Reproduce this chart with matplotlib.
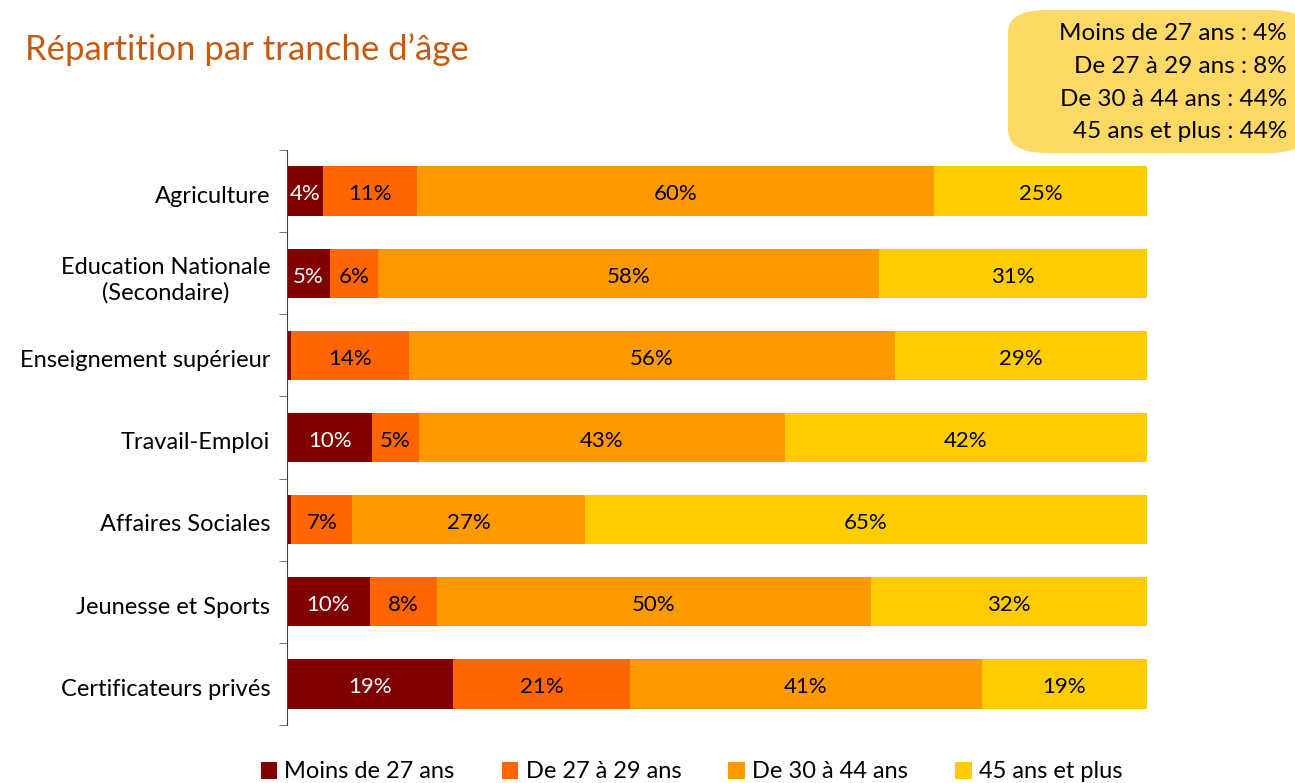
import numpy as np
import matplotlib.pyplot as plt
from matplotlib.patches import FancyBboxPatch, Patch

plt.rcParams['font.family'] = ['Lato', 'DejaVu Sans']

# Data (shares in %)
categories = ["Agriculture", "Education Nationale\n(Secondaire)", "Enseignement supérieur",
              "Travail-Emploi", "Affaires Sociales", "Jeunesse et Sports", "Certificateurs privés"]
series_names = ["Moins de 27 ans", "De 27 à 29 ans", "De 30 à 44 ans", "45 ans et plus"]
moins_27 = [4.2, 5.0, 0.5, 9.9, 0.5, 9.65, 19.3]
de_27_29 = [10.9, 5.6, 13.7, 5.4, 7.1, 7.8, 20.6]
de_30_44 = [60.1, 58.2, 56.5, 42.6, 27.0, 50.4, 40.9]
plus_45 = [24.8, 31.2, 29.3, 42.1, 65.4, 32.1, 19.2]
summary_lines = ["Moins de 27 ans : 4%", "De 27 à 29 ans : 8%",
                 "De 30 à 44 ans : 44%", "45 ans et plus : 44%"]

colors = ["#800000", "#FF6600", "#FF9900", "#FFCC00"]
text_colors = ["white", "black", "black", "black"]

fig = plt.figure(figsize=(12.95, 7.83), dpi=100)
ax = fig.add_axes([287 / 1295, 1 - 725 / 783, 860 / 1295, 575 / 783])

y = np.arange(len(categories))
left = np.zeros(len(categories))
for vals, col, tcol in zip([moins_27, de_27_29, de_30_44, plus_45], colors, text_colors):
    vals = np.array(vals)
    ax.barh(y, vals, left=left, height=0.6, color=col, edgecolor='none')
    for yi, l, v in zip(y, left, vals):
        if v >= 3:
            ax.text(l + v / 2, yi + 0.04, f"{round(v)}%", ha='center', va='center',
                    fontsize=16, color=tcol)
    left += vals

ax.set_xlim(0, 100)
ax.set_ylim(len(categories) - 0.5, -0.5)
ax.set_yticks(y + 0.04)
ax.set_yticklabels(categories, fontsize=17)
ax.set_yticks(np.arange(-0.5, len(categories) + 0.5, 1), minor=True)
ax.tick_params(axis='y', which='major', length=0, pad=12)
ax.tick_params(axis='y', which='minor', length=6, color='#595959', direction='out')
ax.set_xticks([])
for s in ['top', 'right', 'bottom']:
    ax.spines[s].set_visible(False)
ax.spines['left'].set_color('#404040')
for lbl in ax.get_yticklabels():
    lbl.set_multialignment('center')

fig.text(25 / 1295, 1 - 50 / 783, "Répartition par tranche d’âge", fontsize=25,
         color="#C55A11", ha='left', va='center')

# Summary box top right
box = FancyBboxPatch((1008 / 1295, 1 - 153 / 783), 300 / 1295, 143 / 783,
                     boxstyle="round,pad=0,rounding_size=0.03", transform=fig.transFigure,
                     facecolor="#FFD966", edgecolor='none', mutation_aspect=783 / 1295 * 1.6)
fig.patches.append(box)
for i, line in enumerate(summary_lines):
    fig.text(1287 / 1295, 1 - (34 + i * 32.5) / 783, line, fontsize=17.5,
             ha='right', va='center', color='black')

handles = [Patch(facecolor=c, edgecolor='none') for c in colors]
fig.legend(handles, series_names, loc='center', bbox_to_anchor=(0.534, 1 - 772 / 783),
           ncol=4, frameon=False, fontsize=17, handlelength=0.7, handleheight=0.7,
           handletextpad=0.3, columnspacing=2.0)

fig.savefig("out.png", dpi=100)
